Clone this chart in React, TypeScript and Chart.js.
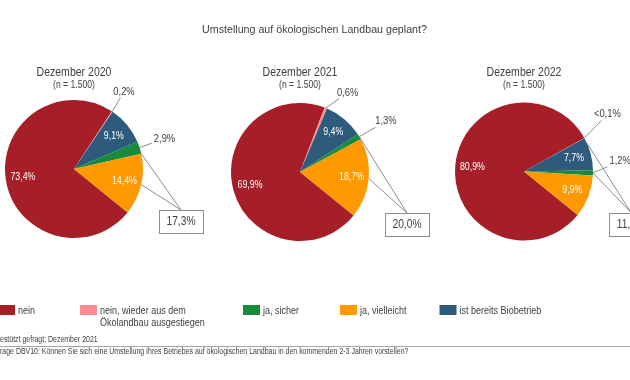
import React, { useEffect, useRef } from "react";
import { Chart, registerables } from "chart.js";

Chart.register(...registerables);

const FONT = '"Liberation Sans", Arial, Helvetica, sans-serif';
const TEXT_COLOR = "#404040";

// ---------- data ----------
const TITLE = "Umstellung auf ökologischen Landbau geplant?";
const PERIODS = ["Dezember 2020", "Dezember 2021", "Dezember 2022"];
const SAMPLES = ["(n = 1.500)", "(n = 1.500)", "(n = 1.500)"];
// slice order (clockwise): nein, nein-wieder, Biobetrieb, ja sicher, ja vielleicht
const CATEGORIES = [
  "nein",
  "nein, wieder aus dem Ökolandbau ausgestiegen",
  "ist bereits Biobetrieb",
  "ja, sicher",
  "ja, vielleicht",
];
const NEIN = [73.4, 69.9, 80.9];
const NEIN_WIEDER = [0.2, 0.6, 0.05];
const BIOBETRIEB = [9.1, 9.4, 7.7];
const JA_SICHER = [2.9, 1.3, 1.2];
const JA_VIELLEICHT = [14.4, 18.7, 9.9];

const LEGEND_ITEMS = [
  { lines: ["nein"], cat: 0 },
  { lines: ["nein, wieder aus dem", "Ökolandbau ausgestiegen"], cat: 1 },
  { lines: ["ja, sicher"], cat: 3 },
  { lines: ["ja, vielleicht"], cat: 4 },
  { lines: ["ist bereits Biobetrieb"], cat: 2 },
];
const FOOTNOTE_1 = "Ungestützt gefragt; Dezember 2021";
const FOOTNOTE_2 =
  "Frage DBV10: Können Sie sich eine Umstellung Ihres Betriebes auf ökologischen Landbau in den kommenden 2-3 Jahren vorstellen?";

// ---------- style / layout ----------
const COLORS = ["#A61E28", "#FF8A93", "#2E5B7C", "#178A3E", "#FF9900"];
const INSIDE = [true, false, true, false, true];
const PIE_CENTERS = [
  [74, 169],
  [300, 172],
  [524, 171.5],
];
const RADIUS = 69;
const ROTATION = 129;
// nudges for the outside labels [nein-wieder, ja sicher] per pie
const LABEL_NUDGE = [
  [[-2.7, 2], [0, -1]],
  [[12, 9], [4, -2]],
  [[0, -11], [1, -12]],
];
// leader anchors of the summary box: [slice index, fraction along the arc]
const BOX_ANCHORS = [
  [[3, 1.0], [4, 0.5]],
  [[3, 0.5], [4, 0.5]],
  [[2, 0.16], [3, 0.5]],
];
const BOX_OFFSET = [107, 41];
const BOX_W = 44;
const BOX_H = 23;
const LEGEND_X = [-2, 80, 243, 340, 439.5];

const fmt = (v: number) => (v < 0.1 ? "<0,1%" : v.toFixed(1).replace(".", ",") + "%");

function txt(
  ctx: CanvasRenderingContext2D,
  s: string,
  x: number,
  y: number,
  size: number,
  sx: number,
  color: string,
  align: CanvasTextAlign = "center",
  baseline: CanvasTextBaseline = "alphabetic"
) {
  ctx.save();
  ctx.font = `normal ${size}px ${FONT}`;
  ctx.fillStyle = color;
  ctx.textAlign = align;
  ctx.textBaseline = baseline;
  ctx.translate(x, y);
  ctx.scale(sx, 1);
  ctx.fillText(s, 0, 0);
  ctx.restore();
}

function textWidth(ctx: CanvasRenderingContext2D, s: string, size: number, sx: number) {
  ctx.save();
  ctx.font = `normal ${size}px ${FONT}`;
  const w = ctx.measureText(s).width * sx;
  ctx.restore();
  return w;
}

const globalTextPlugin = {
  id: "globalText",
  afterDraw(chart: any) {
    const ctx: CanvasRenderingContext2D = chart.ctx;
    txt(ctx, TITLE, 314.5, 32.5, 11, 0.97, TEXT_COLOR);
    // legend
    LEGEND_ITEMS.forEach((item, i) => {
      const x = LEGEND_X[i];
      ctx.fillStyle = COLORS[item.cat];
      ctx.fillRect(x, 305, 17, 10);
      item.lines.forEach((line, j) => {
        txt(ctx, line, x + 20, 313.5 + j * 12.6, 11, 0.82, TEXT_COLOR, "left");
      });
    });
    // footnotes
    const f1w = textWidth(ctx, "Ung", 8.5, 0.82);
    txt(ctx, FOOTNOTE_1, -f1w, 342.3, 8.5, 0.82, TEXT_COLOR, "left");
    ctx.save();
    ctx.strokeStyle = "#A6A6A6";
    ctx.lineWidth = 1;
    ctx.beginPath();
    ctx.moveTo(0, 346.5);
    ctx.lineTo(630, 346.5);
    ctx.stroke();
    ctx.restore();
    const f2w = textWidth(ctx, "F", 8.5, 0.82);
    txt(ctx, FOOTNOTE_2, -f2w, 353.5, 8.5, 0.82, TEXT_COLOR, "left");
  },
};

function makePiePlugin(idx: number) {
  return {
    id: "pieLabels" + idx,
    afterDatasetsDraw(chart: any) {
      const ctx: CanvasRenderingContext2D = chart.ctx;
      const meta = chart.getDatasetMeta(0);
      const values: number[] = chart.data.datasets[0].data;
      const arcs = meta.data;
      const first = arcs[0].getProps(["x", "y", "outerRadius"], true);
      const cx = first.x;
      const cy = first.y;
      const r = first.outerRadius;

      // titles
      txt(ctx, PERIODS[idx], cx, 76, 13, 0.81, TEXT_COLOR);
      txt(ctx, SAMPLES[idx], cx, 87.5, 10.5, 0.82, TEXT_COLOR);

      const angles: number[][] = [];
      let outsideCount = 0;
      arcs.forEach((arc: any, i: number) => {
        const p = arc.getProps(["startAngle", "endAngle"], true);
        angles[i] = [p.startAngle, p.endAngle];
        const mid = (p.startAngle + p.endAngle) / 2;
        const c = Math.cos(mid);
        const s = Math.sin(mid);
        const label = fmt(values[i]);
        if (INSIDE[i]) {
          txt(ctx, label, cx + c * r * 0.75, cy + s * r * 0.75, 11, 0.8, "#FFFFFF", "center", "middle");
        } else {
          const nudge = LABEL_NUDGE[idx][outsideCount++];
          const lx = cx + c * r * 1.38 + nudge[0];
          const ly = cy + s * r * 1.38 + nudge[1];
          const w = textWidth(ctx, label, 11, 0.85);
          // leader: from slice edge to label bbox
          const ex = cx + c * r;
          const ey = cy + s * r;
          const bx0 = lx - w / 2 - 2;
          const bx1 = lx + w / 2 + 2;
          const by0 = ly - 6;
          const by1 = ly + 6;
          let t = 1;
          const dx = lx - ex;
          const dy = ly - ey;
          const cands: number[] = [];
          if (dx !== 0) cands.push((bx0 - ex) / dx, (bx1 - ex) / dx);
          if (dy !== 0) cands.push((by0 - ey) / dy, (by1 - ey) / dy);
          cands.forEach((tc) => {
            if (tc > 0 && tc < t) {
              const px = ex + dx * tc;
              const py = ey + dy * tc;
              if (px >= bx0 - 0.01 && px <= bx1 + 0.01 && py >= by0 - 0.01 && py <= by1 + 0.01) t = tc;
            }
          });
          ctx.save();
          ctx.strokeStyle = "#7F7F7F";
          ctx.lineWidth = 0.9;
          ctx.beginPath();
          ctx.moveTo(ex, ey);
          ctx.lineTo(ex + dx * t, ey + dy * t);
          ctx.stroke();
          ctx.restore();
          txt(ctx, label, lx, ly, 11, 0.85, TEXT_COLOR, "center", "middle");
        }
      });

      // summary box: ja, sicher + ja, vielleicht
      const total = values[3] + values[4];
      const bx = cx + BOX_OFFSET[0];
      const by = cy + BOX_OFFSET[1];
      ctx.save();
      ctx.strokeStyle = "#7F7F7F";
      ctx.lineWidth = 0.9;
      BOX_ANCHORS[idx].forEach(([k, f]) => {
        const a = angles[k][0] + (angles[k][1] - angles[k][0]) * f;
        ctx.beginPath();
        ctx.moveTo(cx + Math.cos(a) * r, cy + Math.sin(a) * r);
        ctx.lineTo(bx, by);
        ctx.stroke();
      });
      ctx.fillStyle = "#FFFFFF";
      ctx.fillRect(bx - BOX_W / 2, by, BOX_W, BOX_H);
      ctx.strokeStyle = "#8C8C8C";
      ctx.lineWidth = 1;
      ctx.strokeRect(Math.round(bx - BOX_W / 2) + 0.5, Math.round(by) + 0.5, BOX_W, BOX_H);
      ctx.restore();
      txt(ctx, fmt(total), bx, by + BOX_H / 2 + 0.5, 12.5, 0.82, TEXT_COLOR, "center", "middle");
    },
  };
}

export default function App() {
  const refs = [useRef<HTMLCanvasElement>(null), useRef<HTMLCanvasElement>(null), useRef<HTMLCanvasElement>(null)];

  useEffect(() => {
    const charts: Chart[] = [];
    PERIODS.forEach((_, idx) => {
      const canvas = refs[idx].current;
      if (!canvas) return;
      const [cx, cy] = PIE_CENTERS[idx];
      const plugins: any[] = [makePiePlugin(idx)];
      if (idx === 0) plugins.unshift(globalTextPlugin);
      const data = [NEIN[idx], NEIN_WIEDER[idx], BIOBETRIEB[idx], JA_SICHER[idx], JA_VIELLEICHT[idx]];
      charts.push(
        new Chart(canvas, {
          type: "pie",
          data: {
            labels: CATEGORIES,
            datasets: [
              {
                data,
                backgroundColor: COLORS,
                borderWidth: 0,
              },
            ],
          },
          options: {
            responsive: false,
            animation: false,
            events: [],
            rotation: ROTATION,
            layout: {
              padding: {
                left: cx - RADIUS,
                top: cy - RADIUS,
                right: 630 - (cx + RADIUS),
                bottom: 380 - (cy + RADIUS),
              },
            },
            plugins: {
              legend: { display: false },
              tooltip: { enabled: false },
              title: { display: false },
            },
          },
          plugins,
        })
      );
    });
    return () => charts.forEach((c) => c.destroy());
  }, []);

  return (
    <div
      style={{
        position: "fixed",
        left: 0,
        top: 0,
        width: 630,
        height: 380,
        background: "#FFFFFF",
        overflow: "hidden",
      }}
    >
      {refs.map((r, i) => (
        <canvas
          key={i}
          ref={r}
          width={630}
          height={380}
          style={{ position: "absolute", left: 0, top: 0, width: 630, height: 380 }}
        />
      ))}
    </div>
  );
}
